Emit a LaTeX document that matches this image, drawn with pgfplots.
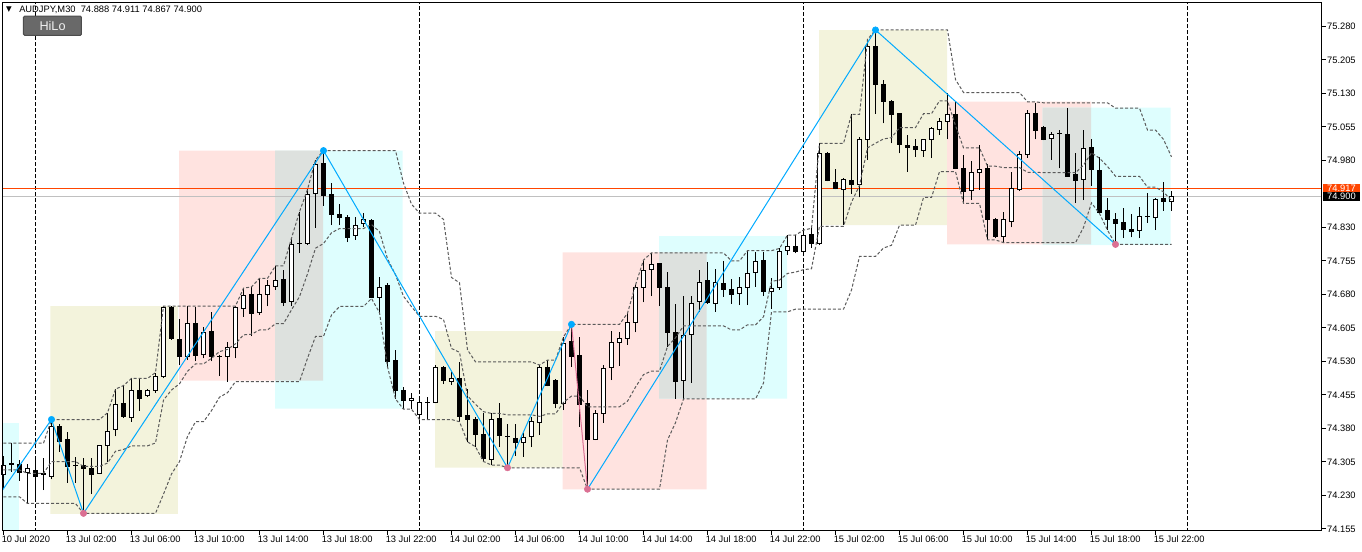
\documentclass[border=0pt]{standalone}
\usepackage{fontspec}
\setmainfont{Liberation Sans}
\newfontfamily\dejavu{DejaVu Sans}
\usepackage{pgfplots}
\usepackage{pgfplotstable}
\pgfplotsset{compat=1.18}

\definecolor{zzblue}{RGB}{0,170,255}
\definecolor{zzpink}{RGB}{219,112,147}
\definecolor{boxyellow}{RGB}{243,243,220}
\definecolor{boxpink}{RGB}{255,227,224}
\definecolor{boxcyan}{RGB}{222,254,254}
\definecolor{boxgrey}{RGB}{221,225,222}
\definecolor{askred}{RGB}{255,69,0}
\definecolor{bidgrey}{RGB}{192,192,192}
\definecolor{hilogrey}{RGB}{90,90,90}
\definecolor{btngrey}{RGB}{105,105,105}

\pgfplotstableread{
i o h l c
-4 74.278 74.319 74.244 74.298
-3 74.299 74.347 74.283 74.301
-2 74.300 74.309 74.263 74.281
-1 74.281 74.300 74.212 74.291
0 74.286 74.309 74.221 74.272
1 74.279 74.313 74.242 74.276
2 74.272 74.400 74.266 74.384
3 74.385 74.391 74.328 74.350
4 74.356 74.373 74.259 74.294
5 74.296 74.317 74.259 74.296
6 74.298 74.313 74.190 74.291
7 74.291 74.313 74.233 74.277
8 74.279 74.343 74.278 74.341
9 74.342 74.415 74.306 74.374
10 74.378 74.468 74.362 74.434
11 74.435 74.476 74.403 74.406
12 74.404 74.492 74.395 74.466
13 74.466 74.492 74.420 74.447
14 74.453 74.468 74.450 74.466
15 74.466 74.505 74.460 74.496
16 74.496 74.654 74.492 74.651
17 74.651 74.654 74.578 74.582
18 74.580 74.626 74.522 74.541
19 74.541 74.653 74.533 74.614
20 74.614 74.651 74.530 74.544
21 74.546 74.608 74.537 74.595
22 74.598 74.641 74.530 74.541
23 74.542 74.544 74.497 74.542
24 74.541 74.574 74.485 74.561
25 74.561 74.653 74.537 74.651
26 74.649 74.694 74.630 74.677
27 74.679 74.697 74.586 74.638
28 74.639 74.716 74.634 74.679
29 74.680 74.712 74.653 74.701
30 74.697 74.744 74.691 74.712
31 74.714 74.735 74.654 74.662
32 74.664 74.806 74.653 74.792
33 74.793 74.865 74.773 74.793
34 74.793 74.915 74.791 74.903
35 74.905 74.981 74.829 74.971
36 74.972 75.002 74.878 74.901
37 74.903 74.929 74.835 74.859
38 74.858 74.882 74.835 74.853
39 74.853 74.858 74.797 74.808
40 74.811 74.854 74.802 74.835
41 74.838 74.862 74.832 74.847
42 74.845 74.848 74.671 74.673
43 74.674 74.718 74.639 74.696
44 74.700 74.706 74.518 74.530
45 74.531 74.556 74.446 74.465
46 74.464 74.473 74.423 74.442
47 74.443 74.460 74.423 74.448
48 74.412 74.447 74.400 74.438
49 74.437 74.450 74.400 74.437
50 74.438 74.522 74.436 74.517
51 74.517 74.520 74.479 74.487
52 74.485 74.507 74.477 74.492
53 74.492 74.529 74.395 74.406
54 74.409 74.469 74.350 74.400
55 74.400 74.406 74.339 74.366
56 74.367 74.414 74.306 74.312
57 74.311 74.414 74.298 74.400
58 74.403 74.436 74.339 74.364
59 74.361 74.391 74.292 74.361
60 74.358 74.391 74.319 74.349
61 74.349 74.369 74.317 74.360
62 74.361 74.406 74.338 74.395
63 74.394 74.522 74.365 74.517
64 74.517 74.533 74.474 74.476
65 74.488 74.490 74.425 74.436
66 74.436 74.585 74.421 74.571
67 74.574 74.613 74.518 74.541
68 74.544 74.584 74.384 74.433
69 74.435 74.466 74.244 74.356
70 74.356 74.421 74.354 74.414
71 74.414 74.522 74.393 74.515
72 74.517 74.599 74.488 74.573
73 74.573 74.597 74.520 74.582
74 74.582 74.638 74.567 74.617
75 74.617 74.701 74.595 74.696
76 74.696 74.757 74.662 74.733
77 74.736 74.773 74.676 74.747
78 74.750 74.751 74.654 74.696
79 74.696 74.731 74.563 74.595
80 74.595 74.659 74.447 74.485
81 74.487 74.676 74.446 74.588
82 74.591 74.676 74.482 74.660
83 74.665 74.735 74.641 74.707
84 74.711 74.753 74.659 74.662
85 74.660 74.736 74.641 74.707
86 74.705 74.755 74.675 74.690
87 74.691 74.714 74.659 74.680
88 74.682 74.720 74.656 74.696
89 74.696 74.778 74.656 74.727
90 74.729 74.776 74.697 74.753
91 74.757 74.774 74.676 74.686
92 74.686 74.716 74.647 74.694
93 74.696 74.783 74.690 74.776
94 74.779 74.813 74.768 74.788
95 74.787 74.813 74.772 74.776
96 74.776 74.824 74.765 74.813
97 74.815 74.828 74.784 74.794
98 74.794 75.018 74.790 74.996
99 74.996 74.998 74.933 74.935
100 74.931 74.961 74.915 74.917
101 74.915 74.940 74.835 74.938
102 74.936 75.083 74.905 74.926
103 74.926 75.033 74.897 75.027
104 75.027 75.251 74.981 75.235
105 75.235 75.272 75.085 75.150
106 75.150 75.161 75.063 75.111
107 75.113 75.115 75.018 75.083
108 75.085 75.087 74.996 75.016
109 75.014 75.037 74.955 75.009
110 75.011 75.029 74.988 75.005
111 75.003 75.029 74.988 75.026
112 75.026 75.054 74.985 75.052
113 75.050 75.074 75.037 75.068
114 75.068 75.132 75.027 75.083
115 75.083 75.111 74.960 74.962
116 74.962 74.992 74.884 74.910
117 74.912 74.979 74.891 74.953
118 74.953 75.014 74.914 74.960
119 74.961 74.972 74.802 74.847
120 74.847 74.852 74.806 74.809
121 74.809 74.865 74.796 74.847
122 74.843 74.953 74.830 74.918
123 74.916 75.002 74.911 74.994
124 74.994 75.093 74.986 75.084
125 75.085 75.109 75.027 75.048
126 75.054 75.056 75.025 75.026
127 75.029 75.044 74.981 75.038
128 75.040 75.048 74.962 75.040
129 75.037 75.097 74.943 74.944
130 74.949 74.996 74.885 74.935
131 74.938 75.048 74.891 75.007
132 75.009 75.027 74.923 74.960
133 74.958 74.988 74.861 74.863
134 74.869 74.895 74.824 74.848
135 74.847 74.862 74.792 74.839
136 74.841 74.874 74.806 74.826
137 74.826 74.859 74.808 74.820
138 74.822 74.876 74.806 74.854
139 74.854 74.906 74.841 74.854
140 74.853 74.895 74.824 74.893
141 74.894 74.932 74.867 74.888
142 74.888 74.911 74.867 74.900
}\candles

\pgfplotstableread{
i hh ll mid
-4 74.347 74.227 74.287
-3 74.347 74.227 74.287
-2 74.347 74.227 74.287
-1 74.347 74.212 74.2795
0 74.347 74.212 74.2795
1 74.347 74.212 74.2795
2 74.400 74.212 74.306
3 74.400 74.212 74.306
4 74.400 74.212 74.306
5 74.400 74.212 74.306
6 74.400 74.190 74.295
7 74.400 74.190 74.295
8 74.400 74.190 74.295
9 74.415 74.190 74.3025
10 74.468 74.190 74.329
11 74.476 74.190 74.333
12 74.492 74.190 74.341
13 74.492 74.190 74.341
14 74.492 74.190 74.341
15 74.505 74.190 74.3475
16 74.654 74.233 74.4435
17 74.654 74.278 74.466
18 74.654 74.306 74.480
19 74.654 74.362 74.508
20 74.654 74.395 74.5245
21 74.654 74.395 74.5245
22 74.654 74.420 74.537
23 74.654 74.450 74.552
24 74.654 74.460 74.557
25 74.654 74.485 74.5695
26 74.694 74.485 74.5895
27 74.697 74.485 74.591
28 74.716 74.485 74.6005
29 74.716 74.485 74.6005
30 74.744 74.485 74.6145
31 74.744 74.485 74.6145
32 74.806 74.485 74.6455
33 74.865 74.485 74.675
34 74.915 74.537 74.726
35 74.981 74.586 74.7835
36 75.002 74.586 74.794
37 75.002 74.634 74.818
38 75.002 74.653 74.8275
39 75.002 74.653 74.8275
40 75.002 74.653 74.8275
41 75.002 74.653 74.8275
42 75.002 74.671 74.8365
43 75.002 74.639 74.8205
44 75.002 74.518 74.760
45 75.002 74.446 74.724
46 74.929 74.423 74.676
47 74.882 74.423 74.6525
48 74.862 74.400 74.631
49 74.862 74.400 74.631
50 74.862 74.400 74.631
51 74.848 74.400 74.624
52 74.718 74.400 74.559
53 74.706 74.395 74.5505
54 74.556 74.350 74.453
55 74.529 74.339 74.434
56 74.529 74.306 74.4175
57 74.529 74.298 74.4135
58 74.529 74.298 74.4135
59 74.529 74.292 74.4105
60 74.529 74.292 74.4105
61 74.529 74.292 74.4105
62 74.529 74.292 74.4105
63 74.522 74.292 74.407
64 74.533 74.292 74.4125
65 74.533 74.292 74.4125
66 74.585 74.292 74.4385
67 74.613 74.292 74.4525
68 74.613 74.292 74.4525
69 74.613 74.244 74.4285
70 74.613 74.244 74.4285
71 74.613 74.244 74.4285
72 74.613 74.244 74.4285
73 74.613 74.244 74.4285
74 74.638 74.244 74.441
75 74.701 74.244 74.4725
76 74.757 74.244 74.5005
77 74.773 74.244 74.5085
78 74.773 74.244 74.5085
79 74.773 74.354 74.5635
80 74.773 74.393 74.583
81 74.773 74.446 74.6095
82 74.773 74.446 74.6095
83 74.773 74.446 74.6095
84 74.773 74.446 74.6095
85 74.773 74.446 74.6095
86 74.773 74.446 74.6095
87 74.755 74.446 74.6005
88 74.755 74.446 74.6005
89 74.778 74.446 74.612
90 74.778 74.446 74.612
91 74.778 74.482 74.630
92 74.778 74.641 74.7095
93 74.783 74.641 74.712
94 74.813 74.641 74.727
95 74.813 74.647 74.730
96 74.824 74.647 74.7355
97 74.828 74.647 74.7375
98 75.018 74.647 74.8325
99 75.018 74.647 74.8325
100 75.018 74.647 74.8325
101 75.018 74.647 74.8325
102 75.083 74.690 74.8865
103 75.083 74.765 74.924
104 75.251 74.765 75.008
105 75.272 74.765 75.0185
106 75.272 74.784 75.028
107 75.272 74.790 75.031
108 75.272 74.835 75.0535
109 75.272 74.835 75.0535
110 75.272 74.835 75.0535
111 75.272 74.897 75.0845
112 75.272 74.897 75.0845
113 75.272 74.955 75.1135
114 75.272 74.955 75.1135
115 75.161 74.955 75.058
116 75.132 74.884 75.008
117 75.132 74.884 75.008
118 75.132 74.884 75.008
119 75.132 74.802 74.967
120 75.132 74.802 74.967
121 75.132 74.796 74.964
122 75.132 74.796 74.964
123 75.132 74.796 74.964
124 75.111 74.796 74.9535
125 75.111 74.796 74.9535
126 75.109 74.796 74.9525
127 75.109 74.796 74.9525
128 75.109 74.796 74.9525
129 75.109 74.796 74.9525
130 75.109 74.796 74.9525
131 75.109 74.830 74.9695
132 75.109 74.885 74.997
133 75.109 74.861 74.985
134 75.109 74.824 74.9665
135 75.097 74.792 74.9445
136 75.097 74.792 74.9445
137 75.097 74.792 74.9445
138 75.097 74.792 74.9445
139 75.048 74.792 74.920
140 75.048 74.792 74.920
141 75.027 74.792 74.9095
142 74.988 74.792 74.890
}\hilo

\begin{document}
\begin{tikzpicture}
\path[use as bounding box] (0,0) rectangle (1021.5pt,-413.25pt);
\begin{axis}[
  at={(1.875pt,-1.875pt)}, anchor=north west,
  scale only axis, width=989.25pt, height=396pt,
  xmin=-4.125, xmax=160.75, ymin=74.15152, ymax=75.33350,
  axis on top, clip mode=individual,
  axis line style={black, line width=0.75pt},
  tick style={black, line width=0.75pt},
  major tick length=3pt, tick align=outside,
  xtick pos=left, ytick pos=right, yticklabel pos=right,
  xtick={-4,4,...,140},
  xticklabels={10 Jul 2020,13 Jul 02:00,13 Jul 06:00,13 Jul 10:00,13 Jul 14:00,13 Jul 18:00,13 Jul 22:00,14 Jul 02:00,14 Jul 06:00,14 Jul 10:00,14 Jul 14:00,14 Jul 18:00,14 Jul 22:00,15 Jul 02:00,15 Jul 06:00,15 Jul 10:00,15 Jul 14:00,15 Jul 18:00,15 Jul 22:00},
  ytick={75.28,75.205,75.13,75.055,74.98,74.83,74.755,74.68,74.605,74.53,74.455,74.38,74.305,74.23,74.155},
  yticklabels={75.280,75.205,75.130,75.055,74.980,74.830,74.755,74.680,74.605,74.530,74.455,74.380,74.305,74.230,74.155},
  xticklabel style={font=\fontsize{7}{8}\selectfont, anchor=north west, xshift=-1.5pt, inner sep=0pt, yshift=-1pt},
  yticklabel style={font=\fontsize{7}{8}\selectfont, anchor=west, inner sep=0pt, xshift=1pt},
]
% HiLo boxes
\addplot[fill=boxcyan, draw=none, forget plot] coordinates {(-5,74.392) (-2.07,74.392) (-2.07,74.0) (-5,74.0) (-5,74.392)};
\addplot[fill=boxyellow, draw=none, forget plot] coordinates {(1.85,74.654) (17.79,74.654) (17.79,74.1885) (1.85,74.1885) (1.85,74.654)};
\addplot[fill=boxpink, draw=none, forget plot] coordinates {(17.94,75.0017) (35.94,75.0017) (35.94,74.4869) (17.94,74.4869) (17.94,75.0017)};
\addplot[fill=boxcyan, draw=none, forget plot] coordinates {(29.94,75.0017) (45.88,75.0017) (45.88,74.4246) (29.94,74.4246) (29.94,75.0017)};
\addplot[fill=boxgrey, draw=none, forget plot] coordinates {(29.94,75.0017) (35.94,75.0017) (35.94,74.4869) (29.94,74.4869) (29.94,75.0017)};
\addplot[fill=boxyellow, draw=none, forget plot] coordinates {(49.94,74.5981) (65.9,74.5981) (65.9,74.2921) (49.94,74.2921) (49.94,74.5981)};
\addplot[fill=boxpink, draw=none, forget plot] coordinates {(65.9,74.7743) (83.9,74.7743) (83.9,74.2438) (65.9,74.2438) (65.9,74.7743)};
\addplot[fill=boxcyan, draw=none, forget plot] coordinates {(77.94,74.8108) (93.94,74.8108) (93.94,74.4466) (77.94,74.4466) (77.94,74.8108)};
\addplot[fill=boxgrey, draw=none, forget plot] coordinates {(77.94,74.7743) (83.9,74.7743) (83.9,74.4466) (77.94,74.4466) (77.94,74.7743)};
\addplot[fill=boxyellow, draw=none, forget plot] coordinates {(97.94,75.2719) (113.94,75.2719) (113.94,74.8354) (97.94,74.8354) (97.94,75.2719)};
\addplot[fill=boxpink, draw=none, forget plot] coordinates {(113.94,75.1114) (131.94,75.1114) (131.94,74.7922) (113.94,74.7922) (113.94,75.1114)};
\addplot[fill=boxcyan, draw=none, forget plot] coordinates {(125.9,75.0980) (141.9,75.0980) (141.9,74.7906) (125.9,74.7906) (125.9,75.0980)};
\addplot[fill=boxgrey, draw=none, forget plot] coordinates {(125.9,75.0980) (131.94,75.0980) (131.94,74.7922) (125.9,74.7922) (125.9,75.0980)};
% period separators
\addplot[black, line width=0.75pt, dash pattern=on 3pt off 1.5pt, forget plot] coordinates {(0,74.0) (0,75.5)};
\addplot[black, line width=0.75pt, dash pattern=on 3pt off 1.5pt, forget plot] coordinates {(48,74.0) (48,75.5)};
\addplot[black, line width=0.75pt, dash pattern=on 3pt off 1.5pt, forget plot] coordinates {(96,74.0) (96,75.5)};
\addplot[black, line width=0.75pt, dash pattern=on 3pt off 1.5pt, forget plot] coordinates {(144,74.0) (144,75.5)};
% bid / ask lines
\addplot[bidgrey, line width=0.75pt, forget plot] coordinates {(-10,74.900) (170,74.900)};
\addplot[askred, line width=0.75pt, forget plot] coordinates {(-10,74.917) (170,74.917)};
% candles
\pgfplotstablegetrowsof{\candles}
\pgfmathtruncatemacro{\lastrow}{\pgfplotsretval-1}
\pgfplotsforeachungrouped \r in {0,...,\lastrow}{%
  \pgfplotstablegetelem{\r}{i}\of\candles \let\ci\pgfplotsretval
  \pgfplotstablegetelem{\r}{o}\of\candles \let\co\pgfplotsretval
  \pgfplotstablegetelem{\r}{h}\of\candles \let\ch\pgfplotsretval
  \pgfplotstablegetelem{\r}{l}\of\candles \let\cl\pgfplotsretval
  \pgfplotstablegetelem{\r}{c}\of\candles \let\cc\pgfplotsretval
  \edef\tmp{\noexpand\draw[black, line width=0.75pt] (axis cs:\ci,\cl) -- (axis cs:\ci,\ch);}\tmp
  \ifdim\cc pt<\co pt
    \edef\tmp{\noexpand\filldraw[fill=black, draw=black, line width=0.75pt] ([xshift=-1.5pt]axis cs:\ci,\co) rectangle ([xshift=1.5pt]axis cs:\ci,\cc);}\tmp
  \else\ifdim\cc pt=\co pt
    \edef\tmp{\noexpand\draw[black, line width=0.75pt] ([xshift=-1.875pt]axis cs:\ci,\co) -- ([xshift=1.875pt]axis cs:\ci,\cc);}\tmp
  \else
    \edef\tmp{\noexpand\filldraw[fill=white, draw=black, line width=0.75pt] ([xshift=-1.5pt]axis cs:\ci,\co) rectangle ([xshift=1.5pt]axis cs:\ci,\cc);}\tmp
  \fi\fi
}
% HiLo channel
\addplot[hilogrey, line width=0.75pt, dash pattern=on 2.25pt off 1.5pt, forget plot] table[x=i, y=hh] {\hilo};
\addplot[hilogrey, line width=0.75pt, dash pattern=on 2.25pt off 1.5pt, forget plot] table[x=i, y=ll] {\hilo};
\addplot[hilogrey, line width=0.75pt, dash pattern=on 2.25pt off 1.5pt, forget plot] table[x=i, y=mid] {\hilo};
% zigzag
\addplot[zzblue, line width=0.75pt, forget plot] coordinates {(-4.125,74.242) (2,74.400) (6,74.190) (36,75.002) (59,74.292) (67,74.613)};
\addplot[zzpink, line width=0.75pt, forget plot] coordinates {(67,74.613) (69,74.244)};
\addplot[zzblue, line width=0.75pt, forget plot] coordinates {(69,74.244) (105,75.272) (135,74.792)};
\addplot[only marks, mark=*, mark size=2.4pt, mark options={draw=zzblue, fill=zzblue}, forget plot] coordinates {(2,74.400) (36,75.002) (67,74.613) (105,75.272)};
\addplot[only marks, mark=*, mark size=2.4pt, mark options={draw=zzpink, fill=zzpink}, forget plot] coordinates {(6,74.190) (59,74.292) (69,74.244) (135,74.792)};
% price labels
\node[fill=askred, text=white, anchor=west, inner sep=0pt, minimum width=28pt, minimum height=6.6pt, font=\fontsize{7}{7}\selectfont, xshift=0.75pt] at (axis cs:160.75,74.917) {74.917};
\node[fill=black, text=white, anchor=west, inner sep=0pt, minimum width=28pt, minimum height=6.6pt, font=\fontsize{7}{7}\selectfont, xshift=0.75pt] at (axis cs:160.75,74.900) {74.900};
\end{axis}
% header
\node[font=\dejavu\fontsize{5.5}{6}\selectfont, inner sep=0pt] at (6.75pt,-7.2pt) {▼};
\node[anchor=west, font=\fontsize{7}{8}\selectfont, inner sep=0pt] at (14.25pt,-7.3pt) {AUDJPY,M30\ \ 74.888 74.911 74.867 74.900};
\draw[fill=btngrey, draw=black!70, rounded corners=1pt, line width=0.75pt] (17.6pt,-12pt) rectangle (61.1pt,-26.6pt);
\node[text=white!94!black, font=\fontsize{9.5}{10}\selectfont, inner sep=0pt] at (39.4pt,-19.4pt) {HiLo};
\end{tikzpicture}
\end{document}
